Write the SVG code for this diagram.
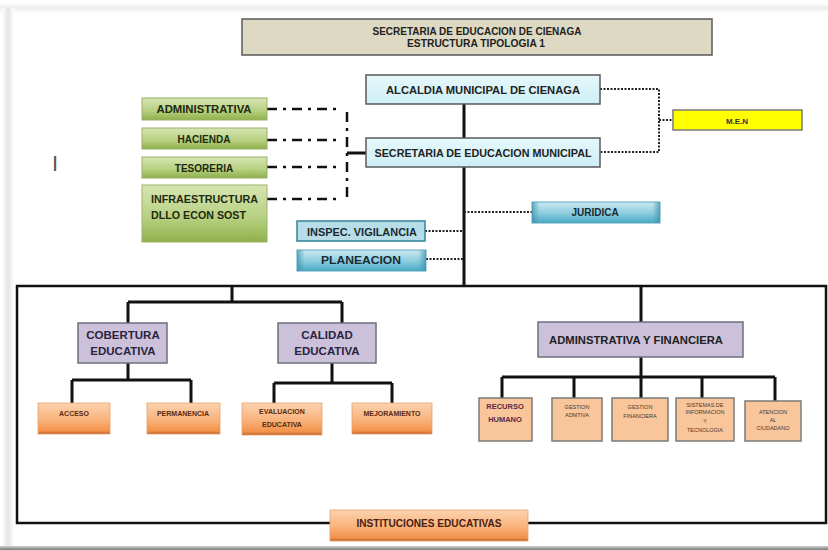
<svg xmlns="http://www.w3.org/2000/svg" width="828" height="550" viewBox="0 0 828 550">
<defs>
<linearGradient id="gGreen" x1="0" y1="0" x2="0" y2="1"><stop offset="0" stop-color="#d8e6b4"/><stop offset="0.6" stop-color="#b5cf7e"/><stop offset="1" stop-color="#8fb04a"/></linearGradient>
<linearGradient id="gBlue" x1="0" y1="0" x2="0" y2="1"><stop offset="0" stop-color="#c9e8f0"/><stop offset="0.5" stop-color="#8fcfe0"/><stop offset="1" stop-color="#4aa8c4"/></linearGradient>
<linearGradient id="gBlueEdge" x1="0" y1="0" x2="1" y2="0"><stop offset="0" stop-color="#3a8fa8" stop-opacity="0.7"/><stop offset="0.06" stop-color="#3a8fa8" stop-opacity="0"/><stop offset="0.94" stop-color="#3a8fa8" stop-opacity="0"/><stop offset="1" stop-color="#3a8fa8" stop-opacity="0.7"/></linearGradient>
<linearGradient id="gOrange" x1="0" y1="0" x2="0" y2="1"><stop offset="0" stop-color="#fcd3b0"/><stop offset="0.55" stop-color="#f9b27a"/><stop offset="0.9" stop-color="#f3924a"/><stop offset="1" stop-color="#b8622a"/></linearGradient>
<linearGradient id="gCyan" x1="0" y1="0" x2="0" y2="1"><stop offset="0" stop-color="#e6f8fb"/><stop offset="1" stop-color="#cdeff6"/></linearGradient>
<linearGradient id="gLeftShadow" x1="0" y1="0" x2="1" y2="0"><stop offset="0" stop-color="#ffffff"/><stop offset="0.5" stop-color="#e4e4e4"/><stop offset="1" stop-color="#ffffff"/></linearGradient>
<linearGradient id="gTopShadow" x1="0" y1="0" x2="0" y2="1"><stop offset="0" stop-color="#ffffff"/><stop offset="0.5" stop-color="#ececec"/><stop offset="1" stop-color="#ffffff"/></linearGradient>
<linearGradient id="gBottom" x1="0" y1="0" x2="0" y2="1"><stop offset="0" stop-color="#d0d0d0"/><stop offset="1" stop-color="#7a7a7a"/></linearGradient>
</defs>
<style>
text{font-family:"Liberation Sans",Arial,sans-serif;font-weight:bold;text-anchor:middle}
.t{font-size:10px;fill:#222}
.cy{font-size:11px;fill:#222}
.gr{font-size:10px;fill:#1f2a10}
.bl{font-size:10px;fill:#1a2a33}
.pu{font-size:11.5px;fill:#2a2440}
.or{font-size:7px;fill:#5a2a10}
.sm{font-size:5.5px;fill:#4a3a30;font-weight:normal}
.solid{stroke:#111;stroke-width:3;fill:none}
.dot{stroke:#222;stroke-width:2;stroke-dasharray:2 1.5;fill:none}
.dd{stroke:#111;stroke-width:2.5;stroke-dasharray:10 6 3 6;fill:none}
.cyanbox{fill:url(#gCyan);stroke:#5a5a5a;stroke-width:1.5}
.greenbox{fill:url(#gGreen);stroke:#9ab06a;stroke-width:1}
.purplebox{fill:#ccc1da;stroke:#6f6f7f;stroke-width:1.5}
.obox{fill:url(#gOrange);stroke:#e9a06a;stroke-width:0.8}
.lobox{fill:#f9c59b;stroke:#7a7a7a;stroke-width:1.5}
</style>
<rect x="0" y="0" width="828" height="550" fill="#ffffff"/>
<rect x="0" y="3" width="828" height="10" fill="url(#gTopShadow)"/>
<rect x="2" y="8" width="12" height="540" fill="url(#gLeftShadow)"/>
<rect x="0" y="546" width="828" height="4" fill="url(#gBottom)"/>

<g id="connectors">
<!-- main spine -->
<path class="solid" d="M464 104V138M464 167V286"/>
<!-- frame -->
<rect x="17" y="286" width="809" height="237" fill="none" stroke="#111" stroke-width="2.5"/>
<!-- dotted to MEN -->
<path class="dot" d="M600 89H659V152H600M659 120H673"/>
<!-- staff dotted -->
<path class="dot" d="M464 212H532M425 231H464M426 259H464"/>
<!-- dash-dot to green -->
<path class="dd" d="M267 109H336M267 140H336M267 167H336M267 199H336"/>
<path class="dd" d="M347 112V200" stroke-dasharray="10 5 2 5"/>
<path class="solid" d="M347 153H366" stroke-width="2.5"/>
<!-- left tree -->
<path class="solid" d="M232 286V302M128 302H342M128 302V323M342 302V323"/>
<path class="solid" d="M128 363V380M72 380H191M72 380V403M191 380V403"/>
<path class="solid" d="M332 363V383M274 383H392M274 383V403M392 383V403"/>
<!-- right tree -->
<path class="solid" d="M641 286V322M641 357V377M502 377H775M502 377V398M574 377V398M641 377V398M702 377V398M775 377V401"/>
</g>

<g id="title">
<rect x="242" y="19" width="470" height="36" fill="#ddd9c3" stroke="#595959" stroke-width="1.5"/>
<text class="t" x="477" y="35" textLength="209" lengthAdjust="spacingAndGlyphs">SECRETARIA DE EDUCACION DE CIENAGA</text>
<text class="t" x="476" y="47" textLength="138" lengthAdjust="spacingAndGlyphs">ESTRUCTURA  TIPOLOGIA 1</text>
</g>

<g id="alcaldia">
<rect class="cyanbox" x="366" y="75" width="234" height="29"/>
<text class="cy" x="483" y="94" textLength="194" lengthAdjust="spacingAndGlyphs">ALCALDIA MUNICIPAL DE CIENAGA</text>
</g>
<g id="secretaria">
<rect class="cyanbox" x="366" y="138" width="234" height="29"/>
<text class="cy" x="483" y="157" textLength="217" lengthAdjust="spacingAndGlyphs">SECRETARIA DE EDUCACION MUNICIPAL</text>
</g>
<g id="men">
<rect x="673" y="110" width="129" height="20" fill="#ffff00" stroke="#7a7a7a" stroke-width="1.5"/>
<text x="737" y="124" style="font-size:8px;fill:#333">M.E.N</text>
</g>

<g id="administrativa">
<rect class="greenbox" x="142" y="98" width="125" height="22"/>
<text class="gr" x="204" y="113" textLength="95" lengthAdjust="spacingAndGlyphs">ADMINISTRATIVA</text>
</g>
<g id="hacienda">
<rect class="greenbox" x="142" y="128" width="125" height="21"/>
<text class="gr" x="204" y="143">HACIENDA</text>
</g>
<g id="tesoreria">
<rect class="greenbox" x="142" y="157" width="125" height="21"/>
<text class="gr" x="204" y="172">TESORERIA</text>
</g>
<g id="infraestructura">
<rect class="greenbox" x="142" y="185" width="125" height="57"/>
<text class="gr" x="151" y="203" style="text-anchor:start" textLength="107" lengthAdjust="spacingAndGlyphs">INFRAESTRUCTURA</text>
<text class="gr" x="151" y="219" style="text-anchor:start" textLength="95" lengthAdjust="spacingAndGlyphs">DLLO ECON SOST</text>
</g>

<g id="inspec">
<rect x="297" y="221" width="128" height="20" fill="#b7dee8" stroke="#31859c" stroke-width="1.5"/>
<text class="bl" x="362" y="236" textLength="110" lengthAdjust="spacingAndGlyphs">INSPEC.  VIGILANCIA</text>
</g>
<g id="planeacion">
<rect x="297" y="250" width="129" height="21" fill="url(#gBlue)" stroke="#5fa8bf" stroke-width="1"/>
<rect x="297" y="250" width="129" height="21" fill="url(#gBlueEdge)"/>
<text class="bl" x="361" y="264" style="font-size:11px" textLength="80" lengthAdjust="spacingAndGlyphs">PLANEACION</text>
</g>
<g id="juridica">
<rect x="532" y="202" width="128" height="21" fill="url(#gBlue)" stroke="#5fa8bf" stroke-width="1"/>
<rect x="532" y="202" width="128" height="21" fill="url(#gBlueEdge)"/>
<text class="bl" x="595" y="216">JURIDICA</text>
</g>

<g id="cobertura">
<rect class="purplebox" x="78" y="323" width="89" height="40"/>
<text class="pu" x="123" y="339">COBERTURA</text>
<text class="pu" x="123" y="355">EDUCATIVA</text>
</g>
<g id="calidad">
<rect class="purplebox" x="278" y="323" width="98" height="40"/>
<text class="pu" x="327" y="339">CALIDAD</text>
<text class="pu" x="327" y="355">EDUCATIVA</text>
</g>
<g id="adminfin">
<rect class="purplebox" x="538" y="322" width="205" height="35"/>
<text class="cy" x="636" y="344" textLength="174" lengthAdjust="spacingAndGlyphs">ADMINSTRATIVA Y FINANCIERA</text>
</g>

<g id="acceso">
<rect class="obox" x="38" y="403" width="72" height="31"/>
<text class="or" x="74" y="416">ACCESO</text>
</g>
<g id="permanencia">
<rect class="obox" x="147" y="403" width="73" height="31"/>
<text class="or" x="183" y="416">PERMANENCIA</text>
</g>
<g id="evaluacion">
<rect class="obox" x="242" y="403" width="80" height="32"/>
<text class="or" x="282" y="414">EVALUACION</text>
<text class="or" x="282" y="427">EDUCATIVA</text>
</g>
<g id="mejoramiento">
<rect class="obox" x="352" y="403" width="80" height="31"/>
<text class="or" x="392" y="416">MEJORAMIENTO</text>
</g>

<g id="recurso">
<rect class="lobox" x="479" y="398" width="53" height="43"/>
<text x="505" y="409" style="font-size:7.5px;fill:#5a2a4a">RECURSO</text>
<text x="505" y="422" style="font-size:7.5px;fill:#5a2a4a">HUMANO</text>
</g>
<g id="gestionadm">
<rect class="lobox" x="552" y="398" width="50" height="43"/>
<text class="sm" x="577" y="409">GESTION</text>
<text class="sm" x="577" y="417">ADMTIVA</text>
</g>
<g id="gestionfin">
<rect class="lobox" x="612" y="398" width="56" height="43"/>
<text class="sm" x="640" y="409">GESTION</text>
<text class="sm" x="640" y="418">FINANCIERA</text>
</g>
<g id="sistemas">
<rect class="lobox" x="676" y="398" width="58" height="43"/>
<text class="sm" x="705" y="407">SISTEMAS DE</text>
<text class="sm" x="705" y="414">INFORMACION</text>
<text class="sm" x="705" y="423">Y</text>
<text class="sm" x="705" y="432">TECNOLOGIA</text>
</g>
<g id="atencion">
<rect class="lobox" x="745" y="401" width="56" height="40"/>
<text class="sm" x="773" y="414">ATENCION</text>
<text class="sm" x="773" y="422">AL</text>
<text class="sm" x="773" y="430">CIUDADANO</text>
</g>

<g id="instituciones">
<rect class="obox" x="330" y="510" width="198" height="31"/>
<text x="429" y="527" style="font-size:10px;fill:#4a2010" textLength="145" lengthAdjust="spacingAndGlyphs">INSTITUCIONES EDUCATIVAS</text>
</g>

<text x="55" y="171" style="font-size:22px;font-weight:normal;fill:#555">I</text>
</svg>
